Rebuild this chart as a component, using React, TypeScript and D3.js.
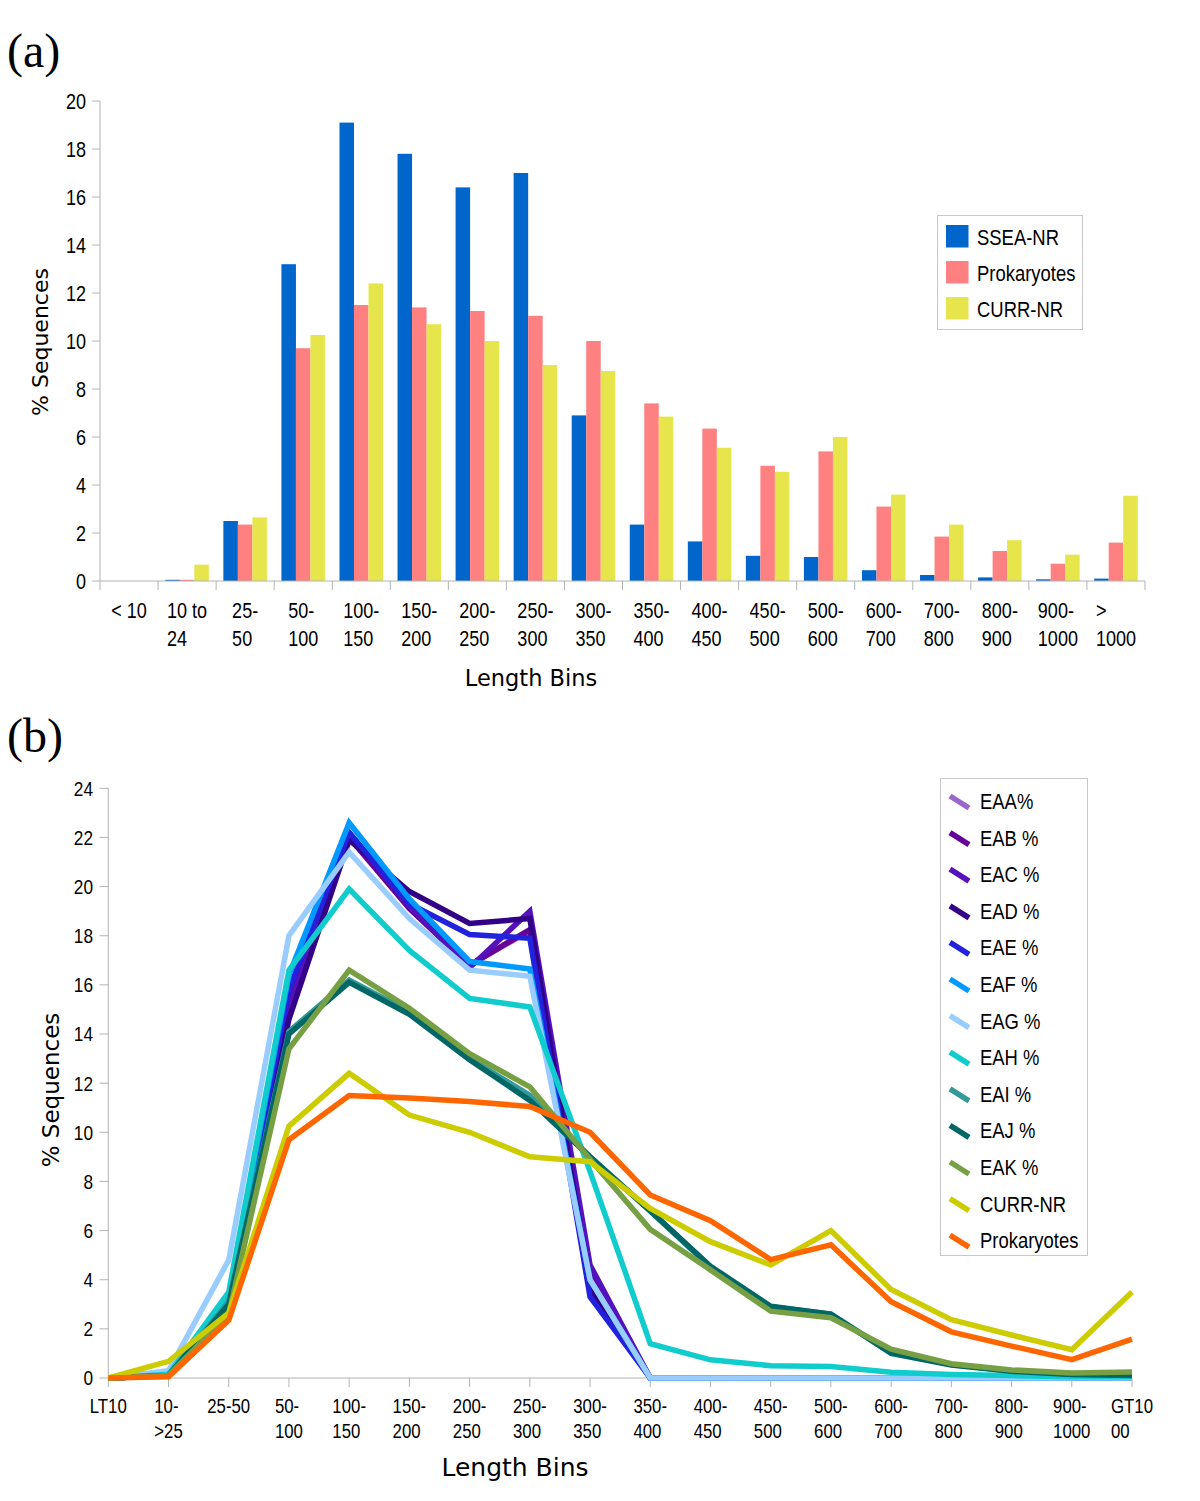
import React, { useEffect, useRef } from "react";
import * as d3 from "d3";

// ---------- Panel (a) data ----------
const binsA: string[][] = [
  ["< 10"], ["10 to", "24"], ["25-", "50"], ["50-", "100"], ["100-", "150"], ["150-", "200"],
  ["200-", "250"], ["250-", "300"], ["300-", "350"], ["350-", "400"], ["400-", "450"], ["450-", "500"],
  ["500-", "600"], ["600-", "700"], ["700-", "800"], ["800-", "900"], ["900-", "1000"], [">", "1000"],
];
const seriesA = ["SSEA-NR", "Prokaryotes", "CURR-NR"];
const colorsA = ["#0066cc", "#ff8080", "#e6e64c"];
const ssea = [0, 0.05, 2.5, 13.2, 19.1, 17.8, 16.4, 17.0, 6.9, 2.35, 1.65, 1.05, 1.0, 0.45, 0.25, 0.15, 0.07, 0.1];
const prokA = [0, 0.05, 2.35, 9.7, 11.5, 11.4, 11.25, 11.05, 10.0, 7.4, 6.35, 4.8, 5.4, 3.1, 1.85, 1.25, 0.72, 1.6];
const currA = [0, 0.68, 2.65, 10.25, 12.4, 10.7, 10.0, 9.0, 8.75, 6.85, 5.55, 4.55, 6.0, 3.6, 2.35, 1.7, 1.1, 3.55];
const ticksA = [0, 2, 4, 6, 8, 10, 12, 14, 16, 18, 20];

// ---------- Panel (b) data ----------
const binsB: string[][] = [
  ["LT10"], ["10-", ">25"], ["25-50"], ["50-", "100"], ["100-", "150"], ["150-", "200"],
  ["200-", "250"], ["250-", "300"], ["300-", "350"], ["350-", "400"], ["400-", "450"], ["450-", "500"],
  ["500-", "600"], ["600-", "700"], ["700-", "800"], ["800-", "900"], ["900-", "1000"], ["GT10", "00"],
];
const namesB = ["EAA%", "EAB %", "EAC %", "EAD %", "EAE %", "EAF %", "EAG %", "EAH %", "EAI %", "EAJ %", "EAK %", "CURR-NR", "Prokaryotes"];
const colorsB = ["#9966cc", "#660099", "#5511bb", "#330088", "#2222dd", "#0099ff", "#99ccff", "#11cccc", "#339999", "#006666", "#77a044", "#cccc00", "#ff6600"];
const eaa = [0, 0.1, 3.0, 15.4, 22.0, 19.2, 16.8, 18.2, 4.3, 0, 0, 0, 0, 0, 0, 0, 0, 0];
const eab = [0, 0.1, 3.0, 15.2, 22.0, 19.1, 16.8, 18.25, 4.4, 0, 0, 0, 0, 0, 0, 0, 0, 0];
const eac = [0, 0.1, 2.9, 15.0, 22.2, 19.2, 16.7, 19.0, 4.6, 0, 0, 0, 0, 0, 0, 0, 0, 0];
const ead = [0, 0.1, 2.9, 14.6, 21.9, 19.8, 18.5, 18.7, 3.6, 0, 0, 0, 0, 0, 0, 0, 0, 0];
const eae = [0, 0.1, 3.0, 15.8, 22.2, 19.3, 18.05, 17.9, 3.3, 0, 0, 0, 0, 0, 0, 0, 0, 0];
const eaf = [0, 0.1, 3.3, 16.4, 22.6, 19.5, 16.95, 16.65, 4.0, 0, 0, 0, 0, 0, 0, 0, 0, 0];
const eag = [0, 0.3, 4.8, 18.0, 21.4, 18.7, 16.6, 16.35, 4.0, 0, 0, 0, 0, 0, 0, 0, 0, 0];
const eah = [0, 0.15, 3.5, 16.6, 19.9, 17.4, 15.45, 15.1, 8.4, 1.4, 0.74, 0.5, 0.47, 0.23, 0.14, 0.1, 0.05, 0.05];
const eai = [0, 0.1, 3.1, 14.1, 16.2, 14.9, 13.0, 11.5, 9.0, 6.8, 4.5, 2.9, 2.6, 1.05, 0.55, 0.28, 0.15, 0.12];
const eaj = [0, 0.1, 3.0, 14.0, 16.1, 14.8, 12.95, 11.3, 9.0, 6.8, 4.55, 2.92, 2.6, 1.0, 0.53, 0.27, 0.14, 0.1];
const eak = [0, 0.1, 2.6, 13.4, 16.6, 15.05, 13.2, 11.85, 8.9, 6.05, 4.4, 2.72, 2.45, 1.17, 0.58, 0.33, 0.2, 0.24];
const currB = [0, 0.68, 2.65, 10.25, 12.4, 10.7, 10.0, 9.0, 8.8, 6.9, 5.55, 4.6, 6.0, 3.6, 2.37, 1.75, 1.15, 3.5];
const prokB = [0, 0.05, 2.35, 9.7, 11.5, 11.4, 11.25, 11.05, 10.0, 7.45, 6.4, 4.82, 5.42, 3.1, 1.88, 1.3, 0.75, 1.58];
const ticksB = [0, 2, 4, 6, 8, 10, 12, 14, 16, 18, 20, 22, 24];

const ARIAL = "'Liberation Sans', Arial, sans-serif";
const SQUEEZE = 0.82; // Arial Narrow look
const SANS = "'DejaVu Sans', sans-serif";
const SERIF = "'Liberation Serif', 'Times New Roman', serif";
const AXIS = "#b3b3b3";

export default function App() {
  const ref = useRef<SVGSVGElement>(null);

  useEffect(() => {
    document.body.style.margin = "0";
    const svg = d3.select(ref.current);
    svg.selectAll("*").remove();

    const narrow = (g: any, x: number, y: number, s: string, size: number, anchor = "start", dy = "0") =>
      g.append("text")
        .attr("transform", `translate(${x},${y}) scale(${SQUEEZE},1)`)
        .attr("text-anchor", anchor).attr("dy", dy)
        .attr("font-family", ARIAL).attr("font-size", size).attr("fill", "#000").text(s);

    // multi-line category label: block centred, lines left-aligned
    const multiLabel = (g: any, lines: string[], cx: number, y0: number, lh: number, size: number) => {
      const t = g.append("text").attr("font-family", ARIAL).attr("font-size", size).attr("fill", "#000");
      const spans = lines.map((l, i) => t.append("tspan").attr("x", 0).attr("y", i * lh).text(l));
      const w = Math.max(...spans.map((s: any) => (s.node() as SVGTSpanElement).getComputedTextLength())) * SQUEEZE;
      t.attr("transform", `translate(${cx - w / 2},${y0}) scale(${SQUEEZE},1)`);
    };

    // ================= Panel (a) =================
    const gA = svg.append("g");
    gA.append("text").attr("x", 7).attr("y", 67).attr("font-family", SERIF).attr("font-size", 48).text("(a)");

    const xA = d3.scaleBand<number>().domain(d3.range(binsA.length)).range([100, 1145]).paddingInner(0).paddingOuter(0);
    const x1A = d3.scaleBand<string>().domain(seriesA).range([0, xA.bandwidth()]).paddingInner(0).paddingOuter(0.5);
    const yA = d3.scaleLinear().domain([0, 20]).range([581, 101]);
    const valsA = [ssea, prokA, currA];

    gA.append("line").attr("x1", 100).attr("x2", 100).attr("y1", yA(20)).attr("y2", yA(0)).attr("stroke", AXIS);
    ticksA.forEach((t) => {
      gA.append("line").attr("x1", 92).attr("x2", 100).attr("y1", yA(t)).attr("y2", yA(t)).attr("stroke", AXIS);
      narrow(gA, 86, yA(t), String(t), 22, "end", "0.35em");
    });

    valsA.forEach((vals, si) => {
      gA.selectAll(null).data(vals).enter().append("rect")
        .attr("x", (_d: number, i: number) => (xA(i) as number) + (x1A(seriesA[si]) as number))
        .attr("width", x1A.bandwidth())
        .attr("y", (d: number) => yA(d))
        .attr("height", (d: number) => yA(0) - yA(d))
        .attr("fill", colorsA[si]);
    });

    gA.append("line").attr("x1", 100).attr("x2", 1145).attr("y1", yA(0)).attr("y2", yA(0)).attr("stroke", AXIS);
    for (let i = 0; i <= binsA.length; i++) {
      const x = i < binsA.length ? (xA(i) as number) : 1145;
      gA.append("line").attr("x1", x).attr("x2", x).attr("y1", yA(0)).attr("y2", yA(0) + 9).attr("stroke", AXIS);
    }
    binsA.forEach((lines, i) => {
      multiLabel(gA, lines, (xA(i) as number) + xA.bandwidth() / 2, 618, 28, 22);
    });

    gA.append("text").attr("x", 531).attr("y", 686).attr("text-anchor", "middle")
      .attr("font-family", SANS).attr("font-size", 22.5).text("Length Bins");
    gA.append("text").attr("transform", "translate(48,342) rotate(-90)").attr("text-anchor", "middle")
      .attr("font-family", SANS).attr("font-size", 22).text("% Sequences");

    gA.append("rect").attr("x", 937.5).attr("y", 215.5).attr("width", 145).attr("height", 114)
      .attr("fill", "#fff").attr("stroke", "#c8c8c8");
    seriesA.forEach((s, i) => {
      gA.append("rect").attr("x", 946).attr("y", 225 + i * 36).attr("width", 22.5).attr("height", 22.5).attr("fill", colorsA[i]);
      narrow(gA, 977, 245 + i * 36, s, 22.5);
    });

    // ================= Panel (b) =================
    const gB = svg.append("g");
    gB.append("text").attr("x", 7).attr("y", 752).attr("font-family", SERIF).attr("font-size", 48).text("(b)");

    const xB = d3.scalePoint<number>().domain(d3.range(binsB.length)).range([108.3, 1132]);
    const yB = d3.scaleLinear().domain([0, 24]).range([1378, 788.3]);
    const valsB = [eaa, eab, eac, ead, eae, eaf, eag, eah, eai, eaj, eak, currB, prokB];

    gB.append("line").attr("x1", 108.3).attr("x2", 108.3).attr("y1", yB(24)).attr("y2", yB(0)).attr("stroke", AXIS);
    ticksB.forEach((t) => {
      gB.append("line").attr("x1", 99.5).attr("x2", 108.3).attr("y1", yB(t)).attr("y2", yB(t)).attr("stroke", AXIS);
      narrow(gB, 93, yB(t), String(t), 21, "end", "0.35em");
    });
    gB.append("line").attr("x1", 108.3).attr("x2", 1132).attr("y1", yB(0)).attr("y2", yB(0)).attr("stroke", AXIS);
    binsB.forEach((lines, i) => {
      const x = xB(i) as number;
      gB.append("line").attr("x1", x).attr("x2", x).attr("y1", yB(0)).attr("y2", yB(0) + 9).attr("stroke", AXIS);
      multiLabel(gB, lines, x, 1413, 25, 20.5);
    });

    const line = d3.line<number>().x((_d, i) => xB(i) as number).y((d) => yB(d)).curve(d3.curveLinear);
    valsB.forEach((vals, si) => {
      gB.append("path").attr("d", line(vals) as string).attr("fill", "none")
        .attr("stroke", colorsB[si]).attr("stroke-width", 5.5).attr("stroke-linejoin", "miter");
    });

    gB.append("text").attr("x", 515).attr("y", 1476).attr("text-anchor", "middle")
      .attr("font-family", SANS).attr("font-size", 25).text("Length Bins");
    gB.append("text").attr("transform", "translate(59,1090) rotate(-90)").attr("text-anchor", "middle")
      .attr("font-family", SANS).attr("font-size", 23).text("% Sequences");

    gB.append("rect").attr("x", 940.5).attr("y", 778.5).attr("width", 147).attr("height", 477)
      .attr("fill", "#fff").attr("stroke", "#c8c8c8");
    namesB.forEach((n, i) => {
      const b = 809 + i * 36.6;
      gB.append("line").attr("x1", 950).attr("y1", b - 13).attr("x2", 969).attr("y2", b - 1)
        .attr("stroke", colorsB[i]).attr("stroke-width", 5.5);
      narrow(gB, 980, b, n, 22.5);
    });
  }, []);

  return <svg ref={ref} width={1200} height={1501} style={{ display: "block", background: "#fff" }} />;
}
